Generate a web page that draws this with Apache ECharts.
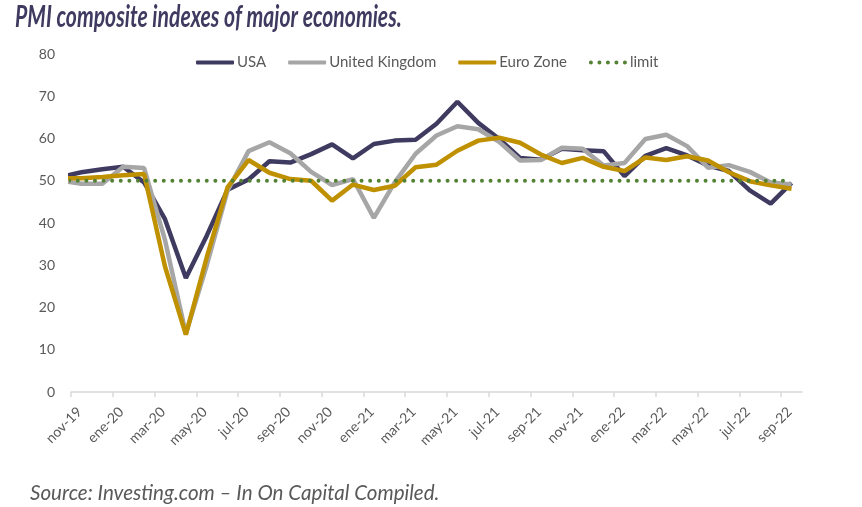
<!DOCTYPE html>
<html>
<head>
<meta charset="utf-8">
<script src="https://cdn.jsdelivr.net/npm/echarts@6/dist/echarts.min.js"></script>
<style>
html,body{margin:0;padding:0;background:#fff;}
#chart{width:862px;height:507px;}
</style>
</head>
<body>
<div id="chart"></div>
<script>
// Months plotted (oct-19 is only partly visible: clipped at the axis start)
const months = ['oct-19','nov-19','dic-19','ene-20','feb-20','mar-20','abr-20','may-20','jun-20','jul-20','ago-20','sep-20','oct-20','nov-20','dic-20','ene-21','feb-21','mar-21','abr-21','may-21','jun-21','jul-21','ago-21','sep-21','oct-21','nov-21','dic-21','ene-22','feb-22','mar-22','abr-22','may-22','jun-22','jul-22','ago-22','sep-22'];
const usa  = [50.9,52.0,52.7,53.3,49.6,40.9,27.0,37.0,47.9,50.3,54.6,54.3,56.3,58.6,55.3,58.7,59.5,59.7,63.5,68.7,63.7,59.9,55.4,55.0,57.6,57.2,57.0,51.1,55.9,57.7,56.0,53.6,52.3,47.7,44.6,49.5];
const uk   = [50.0,49.3,49.3,53.3,53.0,36.0,13.8,30.0,47.7,57.0,59.1,56.5,52.1,49.0,50.4,41.2,49.6,56.4,60.7,62.9,62.2,59.2,54.8,54.9,57.8,57.6,53.6,54.2,59.9,60.9,58.2,53.1,53.7,52.1,49.6,49.1];
const euro = [50.6,50.6,50.9,51.3,51.6,29.7,13.6,31.9,48.5,54.9,51.9,50.4,50.0,45.3,49.1,47.8,48.8,53.2,53.8,57.1,59.5,60.2,59.0,56.2,54.2,55.4,53.3,52.3,55.5,54.9,55.8,54.8,52.0,49.9,48.9,48.1];
const limitValue = 50;
const tickLabels = ['nov-19','ene-20','mar-20','may-20','jul-20','sep-20','nov-20','ene-21','mar-21','may-21','jul-21','sep-21','nov-21','ene-22','mar-22','may-22','jul-22','sep-22'];
const yTicks = [0,10,20,30,40,50,60,70,80];

const titleText = 'PMI composite indexes of major economies.';
const sourceText = 'Source: Investing.com \u2013 In On Capital Compiled.';

// x position: band centre of each month; nov-19 band starts at 0
const xOf = i => i - 0.5;
const toPairs = arr => arr.map((v, i) => [xOf(i), v]);
const tickValues = tickLabels.map((t, k) => k * 2);

const chart = echarts.init(document.getElementById('chart'));
const lab = {fontFamily: 'Lato', color: '#595959'};
const dotsIcon = 'path://M0,2a2,2 0 1,0 4,0a2,2 0 1,0 -4,0z M8.5,2a2,2 0 1,0 4,0a2,2 0 1,0 -4,0z M17,2a2,2 0 1,0 4,0a2,2 0 1,0 -4,0z M25.5,2a2,2 0 1,0 4,0a2,2 0 1,0 -4,0z M34,2a2,2 0 1,0 4,0a2,2 0 1,0 -4,0z';

chart.setOption({
  animation: false,
  backgroundColor: '#ffffff',
  graphic: [
    {type: 'text', left: 15, top: 2, scaleX: 0.705,
     style: {text: titleText, font: 'italic bold 30px Lato', fill: '#3F3A60'}},
    {type: 'text', left: 30, top: 483, scaleX: 0.98,
     style: {text: sourceText, font: 'italic 21px Lato', fill: '#595959'}}
  ],
  legend: {
    left: 191, top: 50, itemWidth: 38, itemHeight: 4, itemGap: 22,
    textStyle: {fontFamily: 'Lato', fontSize: 15, color: '#595959', padding: [0, 0, 0, -2]},
    data: [
      {name: 'USA', icon: 'roundRect'},
      {name: 'United Kingdom', icon: 'roundRect'},
      {name: 'Euro Zone', icon: 'roundRect'},
      {name: 'limit', icon: dotsIcon}
    ]
  },
  grid: {left: 71, right: 60, top: 54, bottom: 115, containLabel: false},
  xAxis: {
    type: 'value', min: 0, max: months.length - 1, interval: 2,
    splitLine: {show: false},
    axisLine: {show: true, lineStyle: {color: '#D9D9D9', width: 1.5}},
    axisTick: {show: true, length: 5, lineStyle: {color: '#D9D9D9', width: 1.5},
               customValues: tickValues},
    axisLabel: {rotate: 45, margin: 9, fontSize: 14, verticalAlign: 'top', padding: [5, 0, 0, 0], ...lab,
                customValues: tickValues,
                formatter: v => tickLabels[Math.round(v / 2)] || ''}
  },
  yAxis: {
    type: 'value', min: yTicks[0], max: yTicks[yTicks.length - 1], interval: 10,
    splitLine: {show: false},
    axisLine: {show: false}, axisTick: {show: false},
    axisLabel: {margin: 16, fontSize: 14, ...lab}
  },
  series: [
    {name: 'USA', type: 'line', data: toPairs(usa), showSymbol: false, symbol: 'none',
     clip: true, lineStyle: {color: '#3F3A60', width: 4.5}, itemStyle: {color: '#3F3A60'}},
    {name: 'United Kingdom', type: 'line', data: toPairs(uk), showSymbol: false, symbol: 'none',
     clip: true, lineStyle: {color: '#A6A6A6', width: 4.5}, itemStyle: {color: '#A6A6A6'}},
    {name: 'Euro Zone', type: 'line', data: toPairs(euro), showSymbol: false, symbol: 'none',
     clip: true, lineStyle: {color: '#BF9000', width: 4.5}, itemStyle: {color: '#BF9000'}},
    {name: 'limit', type: 'line', data: months.map((m, i) => [xOf(i), limitValue]), showSymbol: false, symbol: 'none',
     clip: true, lineStyle: {color: '#548235', width: 4, type: [0, 8.6], cap: 'round'}, itemStyle: {color: '#548235'}}
  ]
});
</script>
</body>
</html>
